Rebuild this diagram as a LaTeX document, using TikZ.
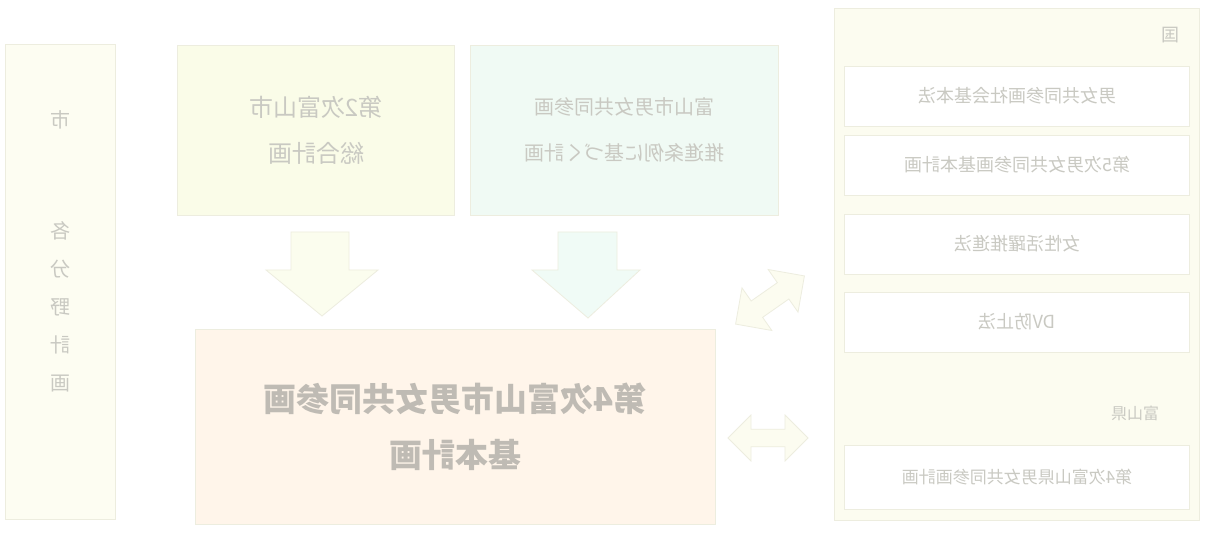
\documentclass[tikz,border=0pt]{standalone}
\usepackage{fontspec}
\setmainfont{Noto Sans CJK JP}
\usetikzlibrary{shapes.arrows}
\definecolor{txt}{HTML}{C9C9C2}
\definecolor{txtd}{HTML}{BFBBB4}
\definecolor{edge}{HTML}{EDEDDF}
\definecolor{colL}{HTML}{FDFDF2}
\definecolor{colA}{HTML}{FAFCE8}
\definecolor{colB}{HTML}{F0FAF4}
\definecolor{colC}{HTML}{FFF5EA}
\definecolor{colR}{HTML}{FCFCF0}
\definecolor{arrA}{HTML}{FBFDEE}
\definecolor{arrB}{HTML}{F0FBF6}
\tikzset{
  mir/.style={xscale=-1},
  panel/.style={draw=edge, line width=0.8pt, inner sep=0pt},
  lawbox/.style={draw=edge, fill=white, line width=0.8pt, minimum width=345pt, minimum height=60pt, mir, text=txt, font=\fontsize{18}{20}\selectfont},
  lbl/.style={mir, text=txt, inner sep=1pt},
  blockarrow/.style={draw=edge, line width=0.8pt, line join=miter},
  dblarr/.style={double arrow, draw=edge, fill=colR, line width=0.8pt, minimum width=52pt, minimum height=84pt, double arrow head extend=6pt}
}
\begin{document}
\begin{tikzpicture}[x=1pt,y=-1pt]
\useasboundingbox (0,0) rectangle (1216,540);
\fill[white] (0,0) rectangle (1216,540);
% left column
\node[panel, fill=colL, minimum width=110pt, minimum height=475pt] (left) at (60,282) {};
\node[lbl, font=\fontsize{20}{22}\selectfont] (lshi) at (60,120) {市};
\node[lbl, font=\fontsize{20}{38}\selectfont, align=center] (lcol) at (60,307) {各\\分\\野\\計\\画};
% top centre boxes
\node[panel, fill=colA, minimum width=277pt, minimum height=170pt, mir, text=txt, align=center, font=\fontsize{24}{46}\selectfont] (plan2) at (316,130) {第2次富山市\\総合計画};
\node[panel, fill=colB, minimum width=308pt, minimum height=170pt, mir, text=txt, align=center, font=\fontsize{20}{46}\selectfont] (jorei) at (624,130) {富山市男女共同参画\\推進条例に基づく計画};
% down block arrows
\draw[blockarrow, fill=arrA] (291,232) -- (349,232) -- (349,270) -- (378,270) -- (322,316) -- (266,270) -- (291,270) -- cycle;
\draw[blockarrow, fill=arrB] (558,232) -- (617,232) -- (617,270) -- (640,270) -- (588,318) -- (532,270) -- (558,270) -- cycle;
% main plan
\node[panel, fill=colC, minimum width=520pt, minimum height=195pt, mir, text=txtd, align=center, font=\fontsize{33}{56}\selectfont\bfseries] (main) at (455,427) {第4次富山市男女共同参画\\基本計画};
% right panel
\node[panel, fill=colR, minimum width=365pt, minimum height=512pt] (right) at (1017,264) {};
\node[lbl, font=\fontsize{18}{20}\selectfont] (kuni) at (1170,35) {国};
\node[lawbox] (law1) at (1017,96) {男女共同参画社会基本法};
\node[lawbox] (law2) at (1017,165) {第5次男女共同参画基本計画};
\node[lawbox] (law3) at (1017,244) {女性活躍推進法};
\node[lawbox] (law4) at (1017,322) {DV防止法};
\node[lbl, font=\fontsize{16}{18}\selectfont] (ken) at (1135,413) {富山県};
\node[lawbox, minimum height=64pt, font=\fontsize{17}{19}\selectfont] (kenplan) at (1017,477) {第4次富山県男女共同参画計画};
% double arrows between panels
\node[dblarr, rotate=35] (d1) at (770,300) {};
\node[dblarr, minimum width=46pt, minimum height=80pt] (d2) at (768,438) {};
\end{tikzpicture}
\end{document}
